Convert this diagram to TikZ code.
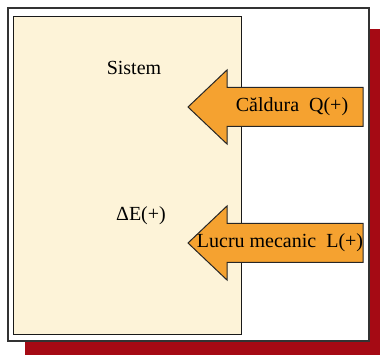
\documentclass[tikz,border=0pt]{standalone}
\usepackage{fontspec}
\setmainfont{Liberation Serif}
\usetikzlibrary{positioning}
\definecolor{shadowred}{RGB}{165,10,20}
\definecolor{paper}{RGB}{253,243,216}
\definecolor{heatorange}{RGB}{245,162,48}

\begin{document}
\begin{tikzpicture}[x=1pt,y=-1pt,
		label/.style={font=\fontsize{20}{24}\selectfont,inner sep=0pt},
		flow/.style={fill=heatorange,draw=black!85,line width=1pt,line join=miter}]
		\useasboundingbox (0,0) rectangle (380,355);
		\fill[shadowred] (25,29) rectangle (380,355);
		\draw[fill=white,draw=black!80,line width=1.5pt] (8,8) rectangle (369,341);
		\draw[fill=paper,draw=black!90,line width=1pt] (13,17) rectangle (241,334);
		\foreach \y in {107,243}
		\draw[flow] (188,\y) -- (227,\y-37) -- (227,\y-19.5) -- (363,\y-19.5)
		-- (363,\y+19.5) -- (227,\y+19.5) -- (227,\y+37) -- cycle;
		\node[label] (sys) at (134,68) {Sistem};
		\node[label] (dE) at (141,216) {ΔE(+)};
		\node[label] (Q) at (292,107) {Căldura\ \ Q(+)};
		\node[label] (L) at (280,243) {Lucru mecanic\ \ L(+)};
		\end{tikzpicture}
\end{document}
